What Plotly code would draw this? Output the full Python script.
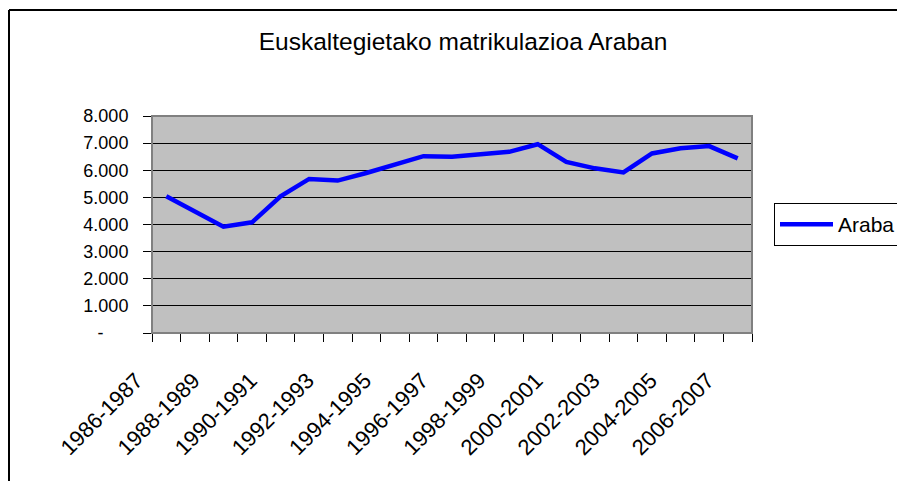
import plotly.graph_objects as go

# Matrikulazioak ikasturteka (irudian irakurritako balioak)
ikasturteak = [
    "1986-1987", "1987-1988", "1988-1989", "1989-1990", "1990-1991",
    "1991-1992", "1992-1993", "1993-1994", "1994-1995", "1995-1996",
    "1996-1997", "1997-1998", "1998-1999", "1999-2000", "2000-2001",
    "2001-2002", "2002-2003", "2003-2004", "2004-2005", "2005-2006",
    "2006-2007",
]
araba = [
    5040, 4480, 3920, 4080, 5040, 5680, 5620, 5900, 6200, 6520,
    6500, 6580, 6680, 6960, 6310, 6070, 5920, 6620, 6810, 6890, 6440,
]
y_ticks = [0, 1000, 2000, 3000, 4000, 5000, 6000, 7000, 8000]
y_labels = ["-\u00a0\u00a0\u00a0\u00a0\u00a0", "1.000", "2.000", "3.000", "4.000",
            "5.000", "6.000", "7.000", "8.000"]

FONT = "Arial, Liberation Sans, sans-serif"
idx = list(range(len(ikasturteak)))

# page is drawn with an 8px body margin, so margins are shifted by 8px
ML, MT, MR, MB = 144, 108, 161, 158
PH = 483 - MT - MB

fig = go.Figure()
fig.add_trace(go.Scatter(x=idx, y=araba, mode="lines", name="Araba",
                         line=dict(color="#0000FF", width=4.5)))

fig.update_layout(
    width=905, height=483,
    paper_bgcolor="white", plot_bgcolor="#C0C0C0",
    margin=dict(l=ML, r=MR, t=MT, b=MB, autoexpand=False),
    font=dict(family=FONT, size=18, color="black"),
    title=dict(text="Euskaltegietako matrikulazioa Araban", x=(463 - 8) / 905, xanchor="center",
               y=1 - 33 / 483, yanchor="middle", font=dict(size=24.5)),
    showlegend=True,
    legend=dict(x=(774 - 152) / 600, xanchor="left", y=0.5, yanchor="middle",
                bordercolor="black", borderwidth=1, bgcolor="white",
                itemwidth=53, font=dict(size=21)),
    xaxis=dict(range=[-0.5, len(ikasturteak) - 0.5],
               tickvals=idx[::2], ticktext=ikasturteak[::2], tickangle=-45,
               ticks="", showgrid=False, zeroline=False,
               showline=True, linecolor="black", linewidth=1,
               ticklabelshift=-30, ticklabelstandoff=25,
               tickfont=dict(size=22),
               minor=dict(tickvals=[i - 0.5 for i in range(len(ikasturteak) + 1)],
                          ticks="outside", ticklen=8, tickcolor="black",
                          showgrid=False)),
    yaxis=dict(range=[0, 8000], tickvals=y_ticks, ticktext=y_labels,
               ticks="outside", ticklen=8, tickcolor="black",
               showgrid=True, gridcolor="black", gridwidth=1, zeroline=False,
               showline=True, linecolor="black", linewidth=1,
               ticklabelstandoff=11, tickfont=dict(size=18)),
)

# plot-area border (gray) and outer chart frame
fig.add_shape(type="rect", xref="paper", yref="paper", x0=0, x1=1, y0=0, y1=1,
              line=dict(color="#808080", width=2))
fx = (1 - ML) / 600
fy_top = (MT + PH - 2) / PH
fy_bot = (MT + PH - 473) / PH
fig.add_shape(type="line", xref="paper", yref="paper",
              x0=fx, x1=1.5, y0=fy_top, y1=fy_top,
              line=dict(color="black", width=2))
fig.add_shape(type="line", xref="paper", yref="paper",
              x0=fx, x1=fx, y0=fy_top, y1=fy_bot,
              line=dict(color="black", width=2))

fig.write_html("out.html")
